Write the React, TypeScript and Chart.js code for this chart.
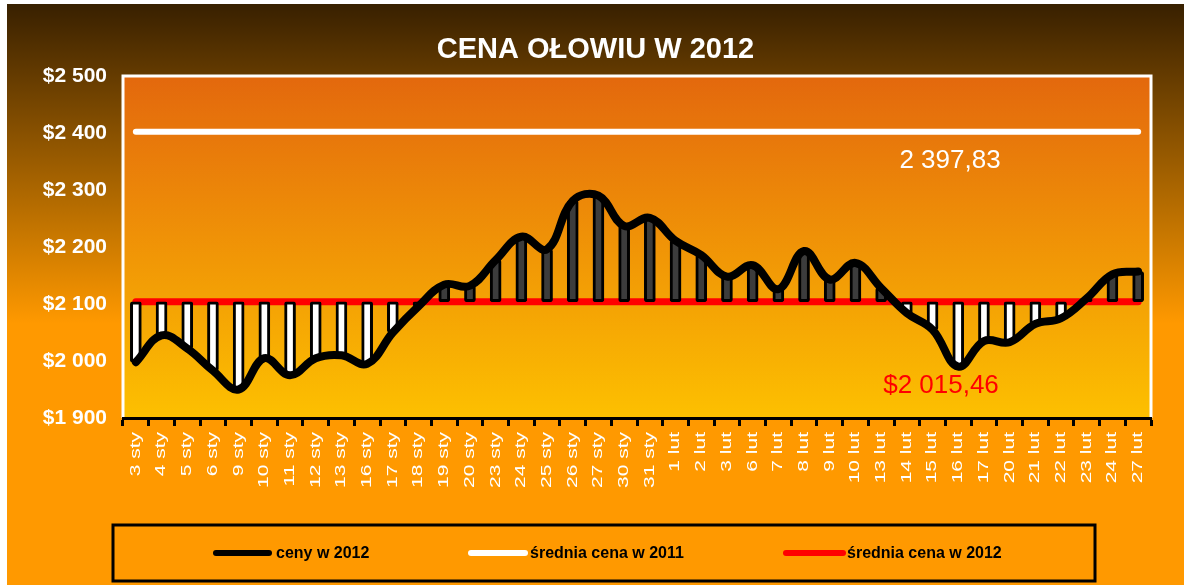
import React, { useEffect, useRef } from 'react';
import { Chart, registerables } from 'chart.js';

Chart.register(...registerables);

// ---------- data ----------
const titleText = 'CENA OŁOWIU W 2012';

const categories = [
  '3 sty', '4 sty', '5 sty', '6 sty', '9 sty', '10 sty', '11 sty', '12 sty', '13 sty', '16 sty',
  '17 sty', '18 sty', '19 sty', '20 sty', '23 sty', '24 sty', '25 sty', '26 sty', '27 sty', '30 sty',
  '31 sty', '1 lut', '2 lut', '3 lut', '6 lut', '7 lut', '8 lut', '9 lut', '10 lut', '13 lut',
  '14 lut', '15 lut', '16 lut', '17 lut', '20 lut', '21 lut', '22 lut', '23 lut', '24 lut', '27 lut',
];

const prices2012 = [
  1998, 2045, 2022, 1983, 1950, 2005, 1975, 2005, 2010, 1995,
  2050, 2096, 2134, 2132, 2177, 2218, 2196, 2281, 2290, 2237,
  2251, 2211, 2186, 2148, 2168, 2126, 2193, 2143, 2172, 2128,
  2084, 2055, 1990, 2035, 2033, 2065, 2075, 2110, 2152, 2157,
];

const average2011 = 2402;
const average2012 = 2104;

const seriesNames = ['ceny w 2012', 'średnia cena w 2011', 'średnia cena w 2012'];
const label2011 = '2 397,83';
const label2012 = '$2 015,46';

const yMin = 1900;
const yMax = 2500;
const yStep = 100;

// ---------- styling ----------
const FONT = '"Liberation Sans", Arial, sans-serif';
const X_LABEL_STRETCH = 1.5;

const fmtDollar = (v: number) =>
  '$' + String(v).replace(/\B(?=(\d{3})+(?!\d))/g, ' ');

const decorPlugin = {
  id: 'decor',
  beforeDraw(chart: any) {
    const { ctx, width, height, chartArea: a } = chart;
    ctx.save();
    const g = ctx.createLinearGradient(0, 0, 0, height);
    g.addColorStop(0, '#382000');
    g.addColorStop(0.55, '#FF9900');
    g.addColorStop(1, '#FF9900');
    ctx.fillStyle = g;
    ctx.fillRect(0, 0, width, height);

    const p = ctx.createLinearGradient(0, a.top, 0, a.bottom);
    p.addColorStop(0, '#E3680D');
    p.addColorStop(1, '#FDC000');
    ctx.fillStyle = p;
    ctx.fillRect(a.left, a.top, a.right - a.left, a.bottom - a.top);

    ctx.strokeStyle = '#FFFFFF';
    ctx.lineWidth = 3;
    ctx.beginPath();
    ctx.moveTo(a.left, a.bottom);
    ctx.lineTo(a.left, a.top);
    ctx.lineTo(a.right, a.top);
    ctx.lineTo(a.right, a.bottom);
    ctx.stroke();
    ctx.restore();
  },
  afterDatasetsDraw(chart: any) {
    // x-axis tick labels (drawn after this hook) appear stretched along their length
    const ctx = chart.ctx;
    const orig = CanvasRenderingContext2D.prototype.fillText;
    ctx.fillText = function (text: string, x: number, y: number) {
      this.save();
      this.scale(X_LABEL_STRETCH, 1);
      orig.call(this, text, x / X_LABEL_STRETCH, y);
      this.restore();
    };
  },
  afterDraw(chart: any) {
    const ctx = chart.ctx;
    delete ctx.fillText;
    const a = chart.chartArea;
    const yScale = chart.scales.y;

    ctx.save();
    // value labels
    ctx.font = `26px ${FONT}`;
    ctx.textAlign = 'center';
    ctx.textBaseline = 'middle';
    ctx.fillStyle = '#FFFFFF';
    ctx.fillText(label2011, a.left + 827, yScale.getPixelForValue(average2011) + 29);
    ctx.fillStyle = '#FF0000';
    ctx.fillText(label2012, a.left + 818, yScale.getPixelForValue(average2012) + 84);

    // legend box
    ctx.strokeStyle = '#000000';
    ctx.lineWidth = 3;
    ctx.strokeRect(106, 521, 982, 56);

    const items = [
      { color: '#000000', x0: 209, x1: 262, tx: 269 },
      { color: '#FFFFFF', x0: 464, x1: 518, tx: 523 },
      { color: '#FF0000', x0: 779, x1: 836, tx: 840 },
    ];
    const ly = 549;
    ctx.font = `bold 16px ${FONT}`;
    ctx.textAlign = 'left';
    ctx.textBaseline = 'middle';
    items.forEach((it, i) => {
      ctx.strokeStyle = it.color;
      ctx.lineWidth = 6;
      ctx.lineCap = 'round';
      ctx.beginPath();
      ctx.moveTo(it.x0, ly);
      ctx.lineTo(it.x1, ly);
      ctx.stroke();
      ctx.fillStyle = '#000000';
      ctx.fillText(seriesNames[i], it.tx, ly + 1);
    });
    ctx.restore();
  },
};

export default function App() {
  const canvasRef = useRef<HTMLCanvasElement | null>(null);

  useEffect(() => {
    const canvas = canvasRef.current;
    if (!canvas) return;

    const barData = prices2012.map((p) => [average2012, p]);
    const barColors = prices2012.map((p) => (p < average2012 ? '#FFFFFF' : '#3C3C3C'));

    const chart = new Chart(canvas, {
      type: 'bar',
      data: {
        labels: categories,
        datasets: [
          {
            type: 'line',
            label: seriesNames[1],
            data: categories.map(() => average2011),
            borderColor: '#FFFFFF',
            borderWidth: 6,
            borderCapStyle: 'round',
            pointRadius: 0,
            fill: false,
            order: 0,
          },
          {
            type: 'line',
            label: seriesNames[0],
            data: prices2012,
            borderColor: '#000000',
            borderWidth: 8,
            borderCapStyle: 'round',
            borderJoinStyle: 'round',
            tension: 0.4,
            pointRadius: 0,
            fill: false,
            order: 1,
          },
          {
            type: 'bar',
            label: 'bars',
            data: barData as any,
            backgroundColor: barColors,
            borderColor: '#000000',
            borderWidth: 3,
            borderSkipped: false,
            borderRadius: 2,
            barThickness: 11,
            order: 2,
          },
          {
            type: 'line',
            label: seriesNames[2],
            data: categories.map(() => average2012),
            borderColor: '#FF0000',
            borderWidth: 7,
            borderCapStyle: 'round',
            pointRadius: 0,
            fill: false,
            order: 3,
          },
        ],
      } as any,
      options: {
        responsive: false,
        devicePixelRatio: 1,
        animation: false,
        events: [],
        layout: { padding: { left: 33, right: 33, top: 0, bottom: 77 } },
        plugins: {
          legend: { display: false },
          tooltip: { enabled: false },
          title: {
            display: true,
            text: titleText,
            color: '#FFFFFF',
            font: { family: FONT, size: 29, weight: 'bold' },
            padding: { top: 28.5, bottom: 8.7 },
          },
        },
        scales: {
          x: {
            offset: true,
            grid: {
              display: true,
              offset: true,
              drawOnChartArea: false,
              drawTicks: true,
              tickLength: 8,
              tickColor: '#000000',
              tickWidth: 3,
              color: '#000000',
            },
            border: { display: true, color: '#000000', width: 3, z: 1 },
            ticks: {
              color: '#FFFFFF',
              font: { family: FONT, size: 14 },
              minRotation: 90,
              maxRotation: 90,
              autoSkip: false,
              padding: 6,
              z: 1,
            },
            afterFit: (s: any) => {
              s.height = 90;
            },
          },
          y: {
            min: yMin,
            max: yMax,
            grid: { display: false, drawTicks: false },
            border: { display: false },
            ticks: {
              stepSize: yStep,
              color: '#FFFFFF',
              font: { family: FONT, size: 21, weight: 'bold' },
              padding: 16,
              callback: (v: any) => fmtDollar(Number(v)),
            },
            afterFit: (s: any) => {
              s.width = 83;
            },
          },
        },
      } as any,
      plugins: [decorPlugin],
    });

    return () => {
      chart.destroy();
    };
  }, []);

  return (
    <div style={{ position: 'absolute', left: 7, top: 4, width: 1177, height: 581 }}>
      <canvas ref={canvasRef} width={1177} height={581} style={{ display: 'block' }} />
    </div>
  );
}
